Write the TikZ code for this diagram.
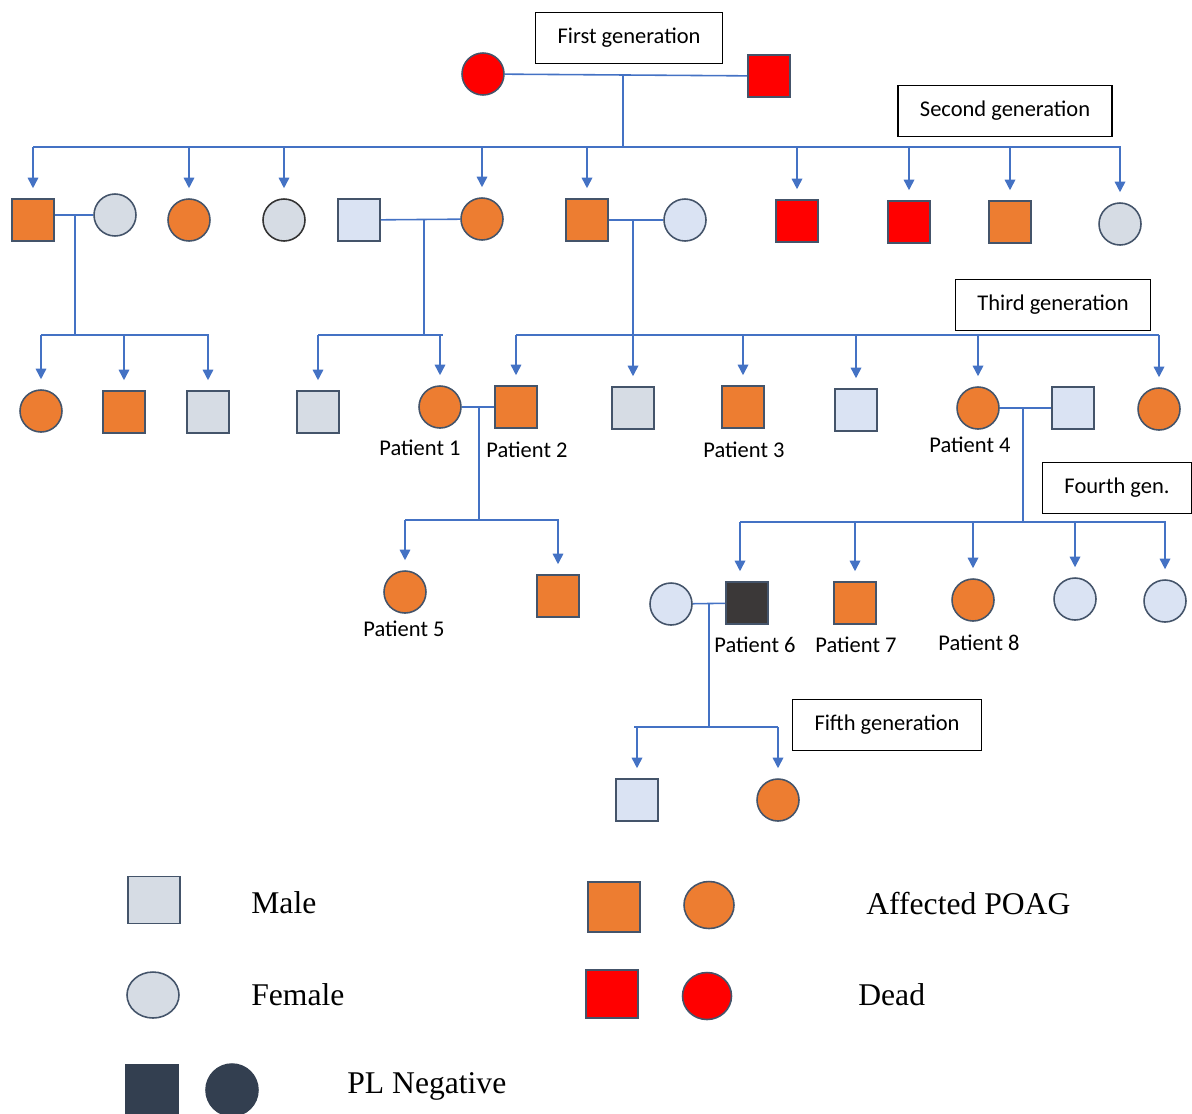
\documentclass[tikz,border=0pt]{standalone}
\usepackage{fontspec}
\setmainfont{Carlito}
\newfontfamily\legfont{Liberation Serif}
\usetikzlibrary{positioning,arrows.meta,shapes.geometric}
\definecolor{affc}{HTML}{ED7D31}
\definecolor{deadc}{HTML}{FF0000}
\definecolor{grayc}{HTML}{D6DCE4}
\definecolor{bluec}{HTML}{DAE3F3}
\definecolor{negc}{HTML}{333F50}
\definecolor{darkc}{HTML}{3B3838}
\definecolor{linkc}{HTML}{4472C4}
\definecolor{edgec}{HTML}{44546A}
\tikzset{
  male/.style={rectangle,draw=edgec,line width=0.9pt,minimum size=0.84cm,inner sep=0pt},
  female/.style={circle,draw=edgec,line width=0.9pt,minimum size=0.84cm,inner sep=0pt},
  aff/.style={fill=affc},
  dead/.style={fill=deadc},
  unaff/.style={fill=grayc},
  unaffb/.style={fill=bluec},
  link/.style={draw=linkc,line width=0.9pt},
  kid/.style={link,->,shorten >=0.2cm},
  genbox/.style={draw,line width=0.8pt,minimum height=1.02cm,inner xsep=0.44cm,font=\fontsize{12.8}{15}\selectfont},
  lbl/.style={font=\fontsize{12.8}{15}\selectfont,inner sep=0pt},
  leg/.style={font=\legfont\fontsize{18}{21}\selectfont,inner sep=0pt,anchor=west}
}
\begin{document}
\begin{tikzpicture}[>={Triangle[length=6pt,width=6pt]},x=0.02cm,y=-0.02cm]
  \useasboundingbox (0,0) rectangle (1192,1113);
  % first generation
  \node[female,dead] (g1f) at (483,74) {};
  \node[male,dead] (g1m) at (769,76) {};
  \node[genbox] (gen1) at (629,38) {First generation};
  % second generation
  \node[male,aff] (a1) at (33,220) {};
  \node[female,unaff] (a2) at (115,215) {};
  \node[female,aff] (a3) at (189,220) {};
  \node[female,unaff,draw=black!80] (a4) at (284,220) {};
  \node[male,unaffb] (a5) at (359,220) {};
  \node[female,aff] (a6) at (482,219) {};
  \node[male,aff] (a7) at (587,220) {};
  \node[female,unaffb] (a8) at (685,220) {};
  \node[male,dead] (a9) at (797,221) {};
  \node[male,dead] (a10) at (909,222) {};
  \node[male,aff] (a11) at (1010,222) {};
  \node[female,unaff] (a12) at (1120,224) {};
  \node[genbox] (gen2) at (1005,111) {Second generation};
  % third generation
  \node[female,aff] (b1) at (41,411) {};
  \node[male,aff] (b2) at (124,412) {};
  \node[male,unaff] (b3) at (208,412) {};
  \node[male,unaff] (b4) at (318,412) {};
  \node[female,aff] (b5) at (440,407) {};
  \node[male,aff] (b6) at (516,407) {};
  \node[male,unaff] (b7) at (633,408) {};
  \node[male,aff] (b8) at (743,407) {};
  \node[male,unaffb] (b9) at (856,410) {};
  \node[female,aff] (b10) at (978,408) {};
  \node[male,unaffb] (b11) at (1073,408) {};
  \node[female,aff] (b12) at (1159,409) {};
  \node[genbox] (gen3) at (1053,305) {Third generation};
  \node[lbl] (p1) at (420,448) {Patient 1};
  \node[lbl] (p2) at (527,450) {Patient 2};
  \node[lbl] (p3) at (744,450) {Patient 3};
  \node[lbl] (p4) at (970,445) {Patient 4};
  % fourth generation
  \node[female,aff] (c1) at (405,592) {};
  \node[male,aff] (c2) at (558,596) {};
  \node[female,unaffb] (c3) at (671,604) {};
  \node[male,fill=darkc] (c4) at (747,603) {};
  \node[male,aff] (c5) at (855,603) {};
  \node[female,aff] (c6) at (973,600) {};
  \node[female,unaffb] (c7) at (1075,599) {};
  \node[female,unaffb] (c8) at (1165,601) {};
  \node[genbox] (gen4) at (1117,488) {Fourth gen.};
  \node[lbl] (p5) at (404,629) {Patient 5};
  \node[lbl] (p6) at (755,645) {Patient 6};
  \node[lbl] (p7) at (856,645) {Patient 7};
  \node[lbl] (p8) at (979,643) {Patient 8};
  % fifth generation
  \node[male,unaffb] (d1) at (637,800) {};
  \node[female,aff] (d2) at (778,800) {};
  \node[genbox] (gen5) at (887,725) {Fifth generation};
  % couples and sibships
  \coordinate (m1) at (623,75);   \coordinate (s1w) at (33,147);  \coordinate (s1e) at (1121,147);
  \coordinate (m2) at (75,215);   \coordinate (s2w) at (41,335);  \coordinate (s2e) at (209,335);
  \coordinate (m3) at (424,219);  \coordinate (s3w) at (318,335); \coordinate (s3e) at (443,335);
  \coordinate (m4) at (633,220);  \coordinate (s4w) at (516,335); \coordinate (s4e) at (1159,335);
  \coordinate (m5) at (479,407);  \coordinate (s5w) at (405,520); \coordinate (s5e) at (559,520);
  \coordinate (m6) at (1023,408); \coordinate (s6w) at (740,522); \coordinate (s6e) at (1166,522);
  \coordinate (m7) at (709,603);  \coordinate (s7w) at (634,727); \coordinate (s7e) at (778,727);
  \draw[link] (g1f) -- (g1m);
  \draw[link] (a1.east |- a2) -- (a2);
  \draw[link] (a5) -- (a6);
  \draw[link] (a7) -- (a8);
  \draw[link] (b5) -- (b6);
  \draw[link] (b10) -- (b11);
  \draw[link] (c3) -- (c4);
  \foreach \i in {1,...,7} {
    \draw[link] (m\i) -- (m\i |- s\i w);
    \draw[link] (s\i w) -- (s\i e);
  }
  \foreach \k in {a1,a3,a4,a6,a7,a9,a10,a11,a12} \draw[kid] (\k |- s1w) -- (\k);
  \foreach \k in {b1,b2,b3} \draw[kid] (\k |- s2w) -- (\k);
  \foreach \k in {b4,b5} \draw[kid] (\k |- s3w) -- (\k);
  \foreach \k in {b6,b7,b8,b9,b10,b12} \draw[kid] (\k |- s4w) -- (\k);
  \foreach \k in {c1,c2} \draw[kid] (\k |- s5w) -- (\k);
  \draw[kid] (s6w) -- (s6w |- c4.north);
  \foreach \k in {c5,c6,c7,c8} \draw[kid] (\k |- s6w) -- (\k);
  \foreach \k in {d1,d2} \draw[kid] (\k |- s7w) -- (\k);
  % legend
  \node[male,unaff,minimum width=1.04cm,minimum height=0.94cm] (lmale) at (154,900) {};
  \node[ellipse,draw=edgec,line width=0.9pt,unaff,minimum width=1.04cm,minimum height=0.92cm] (lfem) at (153,995) {};
  \node[male,fill=negc,draw=negc,minimum width=1.04cm,minimum height=1cm] (lnegm) at (152,1090) {};
  \node[female,fill=negc,draw=negc,minimum size=1.04cm] (lnegf) at (232,1090) {};
  \node[male,aff,minimum width=1.04cm,minimum height=1cm] (laffm) at (614,907) {};
  \node[ellipse,draw=edgec,line width=0.9pt,aff,minimum width=1cm,minimum height=0.94cm] (lafff) at (709,905) {};
  \node[male,dead,minimum width=1.04cm,minimum height=0.96cm] (ldeadm) at (612,994) {};
  \node[ellipse,draw=edgec,line width=0.9pt,dead,minimum width=0.98cm,minimum height=0.94cm] (ldeadf) at (707,996) {};
  \node[leg] (tmale) at (251,903) {Male};
  \node[leg] (tfem) at (251,995) {Female};
  \node[leg] (tneg) at (347,1086) {PL Negative};
  \node[leg] (taff) at (866,903) {Affected POAG};
  \node[leg] (tdead) at (858,995) {Dead};
\end{tikzpicture}
\end{document}
